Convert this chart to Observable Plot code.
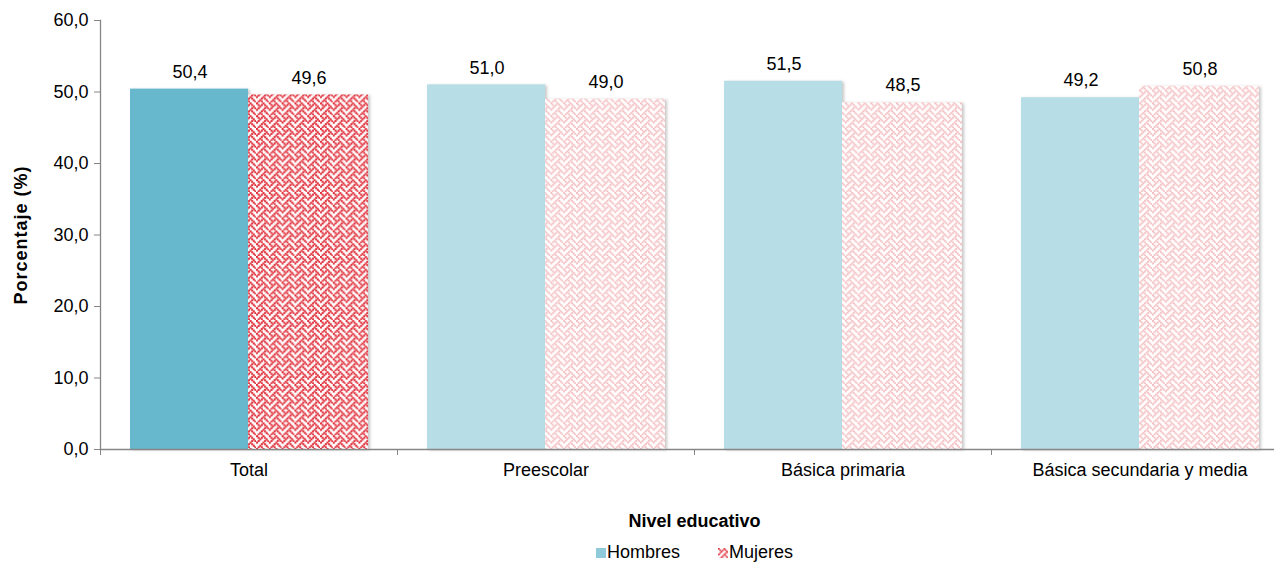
<!DOCTYPE html>
<html><head><meta charset="utf-8">
<script src="https://cdn.jsdelivr.net/npm/d3@7"></script>
<script src="https://cdn.jsdelivr.net/npm/@observablehq/plot@0.6"></script>
<style>
body{margin:0;background:#fff;font-family:"Liberation Sans",Arial,sans-serif;}
#wrap{position:relative;width:1278px;height:565px;}
#legend{position:absolute;top:542px;left:596px;display:flex;align-items:center;font-size:18px;color:#000;}
#legend .item{display:flex;align-items:center;margin-right:38px;}
#legend .sw{width:10px;height:10px;margin-right:1px;}
</style></head><body>
<svg id="defs" width="0" height="0" style="position:absolute"><defs></defs></svg>
<div id="wrap"><div id="chart"></div>
<div id="legend">
  <div class="item"><div class="sw" style="background:#8FCADB"></div><span>Hombres</span></div>
  <div class="item"><svg class="sw" width="11" height="11"><rect width="11" height="11" fill="url(#weaveLegend)"/></svg><span>Mujeres</span></div>
</div></div>
<script>
const categories = ["Total", "Preescolar", "Básica primaria", "Básica secundaria y media"];
const series = ["Hombres", "Mujeres"];
const hombres = [50.4, 51.0, 51.5, 49.2];
const mujeres = [49.6, 49.0, 48.5, 50.8];
const yTicks = [0, 10, 20, 30, 40, 50, 60];

// pattern (style only)
const weaveBits = [0x88, 0x54, 0x22, 0x45, 0x88, 0x14, 0x22, 0x51];
const defs = d3.select("#defs defs");
function makePattern(id, color, px, grow) {
  const p = defs.append("pattern").attr("id", id).attr("patternUnits", "userSpaceOnUse")
    .attr("width", 8 * px).attr("height", 8 * px);
  p.append("rect").attr("width", 8 * px).attr("height", 8 * px).attr("fill", "#fff");
  weaveBits.forEach((b, r) => {
    for (let c = 0; c < 8; c++) if (b & (0x80 >> c))
      p.append("rect").attr("x", c * px).attr("y", r * px).attr("width", px * grow).attr("height", px * grow).attr("fill", color);
  });
}
makePattern("weaveDark", "#E0323D", 1.6, 1.3);
makePattern("weaveLight", "#F3BDC0", 1.6, 1.2);
makePattern("weaveLegend", "#E0323D", 1.4, 1.2);

const rows = categories.flatMap((c, i) => [
  {cat: c, sexo: series[0], valor: hombres[i]},
  {cat: c, sexo: series[1], valor: mujeres[i]}
]);
const fmt = v => v.toFixed(1).replace(".", ",");
const isTotal = d => d.cat === categories[0];
const H = rows.filter(d => d.sexo === series[0]);
const M = rows.filter(d => d.sexo === series[1]);

const chart = Plot.plot({
  width: 1278, height: 540,
  marginTop: 20, marginBottom: 91, marginLeft: 100, marginRight: -10,
  style: {fontFamily: "'Liberation Sans', Arial, sans-serif", fontSize: "18px", color: "#000", background: "#fff", overflow: "visible"},
  x: {domain: categories, padding: 0},
  y: {domain: [0, 60]},
  color: {type: "identity"},
  marks: [
    Plot.barY(H, {x: "cat", y: "valor", fill: d => isTotal(d) ? "#67B8CD" : "#B7DDE7", insetLeft: 30, insetRight: 149}),
    Plot.barY(M, {x: "cat", y: "valor", fill: d => isTotal(d) ? "url(#weaveDark)" : "url(#weaveLight)", insetLeft: 148, insetRight: 29}),
    Plot.ruleY([0], {stroke: "#868686", strokeWidth: 1.3, insetRight: 14}),
    Plot.frame({anchor: "left", stroke: "#868686", strokeWidth: 1.3}),
    Plot.text(H, {x: "cat", y: "valor", text: d => fmt(d.valor), dx: -59, dy: -17, fontSize: 18}),
    Plot.text(M, {x: "cat", y: "valor", text: d => fmt(d.valor), dx: 60, dy: -17, fontSize: 18}),
    Plot.axisY({ticks: yTicks, tickFormat: fmt, tickSize: 6, tickPadding: 6, stroke: "#868686", fontSize: 18,
      label: "Porcentaje (%)", labelAnchor: "center", labelOffset: 86, labelArrow: "none"}),
    Plot.axisX({tickSize: 6, tickFormat: () => "", dx: -148.5, stroke: "#868686", label: null}),
    Plot.axisX({tickSize: 0, tickPadding: 14, fontSize: 18, label: "Nivel educativo", labelAnchor: "center", labelOffset: 77, labelArrow: "none"})
  ]
});
document.getElementById("chart").appendChild(chart);
chart.querySelectorAll('g[aria-label$="axis label"] text').forEach(t => { t.style.fontWeight = "bold"; });
chart.querySelectorAll('g[aria-label="y-axis label"] text').forEach(t => { t.style.letterSpacing = "1px"; });
chart.querySelectorAll('g[aria-label="bar"]').forEach(g => g.style.filter = "drop-shadow(2px 1px 1.5px rgba(0,0,0,0.22))");
</script>
</body></html>
